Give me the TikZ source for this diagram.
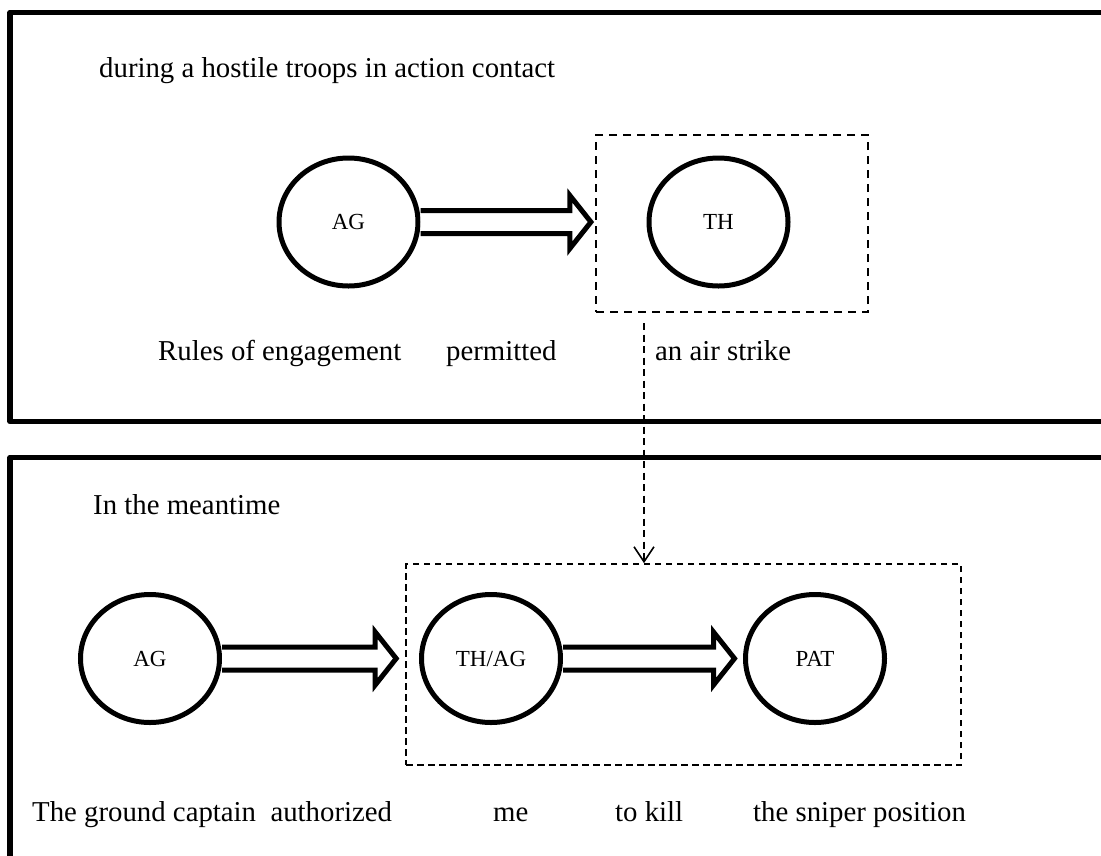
\documentclass[tikz,border=0pt]{standalone}
\usepackage{fontspec}
\setmainfont{Liberation Serif}
\usetikzlibrary{shapes.geometric,arrows.meta,calc}

% Block arrow from the east side of node #1 to the point #2
\newcommand{\fatarrow}[2]{%
  \draw[fatline] let \p1=(#1.east), \p2=#2 in
    (\x1,\y1+11.5pt) -- (\x2-21pt,\y1+11.5pt) -- (\x2-21pt,\y1+26.5pt)
    -- (\x2,\y1) -- (\x2-21pt,\y1-26.5pt) -- (\x2-21pt,\y1-11.5pt)
    -- (\x1,\y1-11.5pt);}

\begin{document}
\begin{tikzpicture}[x=1pt,y=-1pt,
  panel/.style={line width=5.5pt, line join=round},
  role/.style={ellipse, draw, line width=5pt, fill=white, inner sep=0pt,
    minimum width=139pt, minimum height=128pt,
    font=\fontsize{23}{27}\selectfont},
  fatline/.style={line width=5pt, line join=miter, fill=white},
  scopeA/.style={draw, line width=2.2pt, dash pattern=on 8pt off 6pt,
    inner sep=0pt},
  scopeB/.style={draw, line width=1.6pt, dash pattern=on 6.5pt off 4.5pt,
    inner sep=0pt},
  link/.style={line width=2pt, dash pattern=on 7pt off 4.5pt,
    -{Straight Barb[length=15pt,width=20pt,line width=1.6pt]}},
  words/.style={anchor=base west, inner sep=0pt,
    font=\fontsize{28.8}{33}\selectfont},
]
\useasboundingbox (0,0) rectangle (1101,855);

% the two panels
\draw[panel] (1110,12.5) -- (10,12.5) -- (10,421.5) -- (1110,421.5);
\draw[panel] (1110,457.5) -- (10,457.5) -- (10,865);

% upper panel
\node[words] (ctxA) at (99,77) {during a hostile troops in action contact};
\node[scopeA, minimum width=272pt, minimum height=177pt] (boxA) at (732,223.5) {};
\node[role] (agA) at (348.5,222) {AG};
\node[role] (thA) at (718.5,222) {TH};
\fatarrow{agA}{($(boxA.west |- agA.east)+(-4,0)$)}
\node[words] (roe) at (158,360) {Rules of engagement};
\node[words] (perm) at (446,360) {permitted};
\node[words] (strike) at (655,360) {an air strike};

% lower panel
\node[words] (ctxB) at (93,514) {In the meantime};
\node[scopeB, minimum width=555pt, minimum height=201pt] (boxB) at (683.5,664.5) {};
\node[role] (agB) at (150,658.5) {AG};
\node[role] (thag) at (491,658.5) {TH/AG};
\node[role] (pat) at (815,658.5) {PAT};
\fatarrow{agB}{($(boxB.west |- agB.east)+(-9,0)$)}
\fatarrow{thag}{($(pat.west)+(-8.5,0)$)}
\node[words] (capt) at (32,821) {The ground captain~ authorized};
\node[words] (me) at (493,821) {me};
\node[words] (kill) at (615,821) {to kill};
\node[words] (snip) at (753,821) {the sniper position};

% the strike becomes the embedded event
\coordinate (dstart) at (644,323);
\draw[link] (dstart) -- (dstart |- boxB.north);
\end{tikzpicture}
\end{document}
